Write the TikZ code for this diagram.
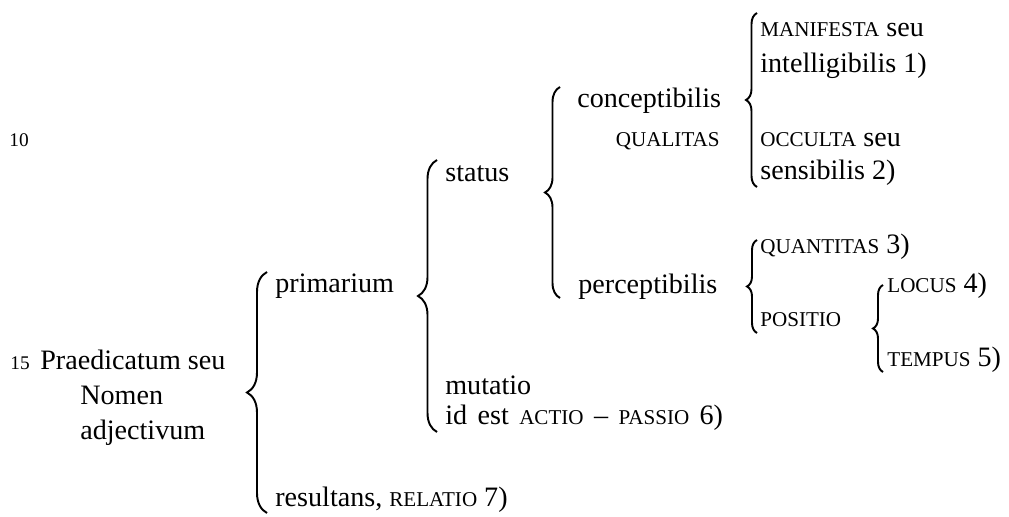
\documentclass[tikz,border=0pt]{standalone}
\usepackage{fontspec}
\setmainfont{Liberation Serif}
\usepackage{tikz}
\usetikzlibrary{decorations.pathreplacing}
\newcommand{\smc}[1]{{\fontsize{12}{12}\selectfont #1}}
\newcommand{\lnum}[1]{{\fontsize{11}{11}\selectfont #1}}

\begin{document}
\begin{tikzpicture}[
	txt/.style={anchor=base west, inner sep=0pt, font=\fontsize{16}{16}\selectfont},
	brc/.style={decorate, decoration={brace, amplitude=#1}, line width=1.1pt}]
		\useasboundingbox (0,0) rectangle (20.18,10.34);
		
		\node[txt] (n10) at (0.18,7.40) {\lnum{10}};
		\node[txt] (n15) at (0.20,2.94) {\lnum{15}};
		\node[txt] (praed) at (0.80,2.94) {Praedicatum seu};
		\node[txt] (nomen) at (1.60,2.24) {Nomen};
		\node[txt] (adject) at (1.60,1.54) {adjectivum};
		
		\node[txt] (prim) at (5.50,4.48) {primarium};
		\node[txt] (result) at (5.50,0.20) {resultans, \smc{RELATIO} 7)};
		
		\node[txt] (status) at (8.90,6.70) {status};
		\node[txt] (mutat) at (8.90,2.44) {mutatio};
		\node[txt] (idest) at (8.90,1.84) {\spaceskip=0.37em id est \smc{ACTIO} -- \smc{PASSIO} 6)};
		
		\node[txt] (concept) at (11.54,8.18) {conceptibilis};
		\node[txt, anchor=base east] (qualit) at (14.40,7.40) {\smc{QUALITAS}};
		\node[txt] (percept) at (11.56,4.46) {perceptibilis};
		
		\node[txt] (manif) at (15.20,9.60) {\smc{MANIFESTA} seu};
		\node[txt] (intell) at (15.20,8.88) {intelligibilis 1)};
		\node[txt] (occult) at (15.20,7.40) {\smc{OCCULTA} seu};
		\node[txt] (sensib) at (15.20,6.74) {sensibilis 2)};
		
		\node[txt] (quant) at (15.20,5.26) {\smc{QUANTITAS} 3)};
		\node[txt] (posit) at (15.20,3.80) {\smc{POSITIO}};
		\node[txt] (locus) at (17.74,4.48) {\smc{LOCUS} 4)};
		\node[txt] (tempus) at (17.74,3.00) {\smc{TEMPUS} 5)};
		
		\coordinate (b1t) at (5.34,4.90);
		\coordinate (b1b) at (5.34,0.08);
		\coordinate (b2t) at (8.74,7.14);
		\coordinate (b2b) at (8.74,1.70);
		\coordinate (b3t) at (11.20,8.60);
		\coordinate (b3b) at (11.20,4.38);
		\coordinate (b4t) at (15.14,10.08);
		\coordinate (b4b) at (15.14,6.60);
		\coordinate (b5t) at (15.14,5.54);
		\coordinate (b5b) at (15.14,3.68);
		\coordinate (b6t) at (17.66,4.64);
		\coordinate (b6b) at (17.66,2.90);
		
		\draw[brc=0.40cm] (b1b) -- (b1t);
		\draw[brc=0.38cm] (b2b) -- (b2t);
		\draw[brc=0.30cm] (b3b) -- (b3t);
		\draw[brc=0.22cm] (b4b) -- (b4t);
		\draw[brc=0.20cm] (b5b) -- (b5t);
		\draw[brc=0.20cm] (b6b) -- (b6t);
	\end{tikzpicture}
\end{document}
